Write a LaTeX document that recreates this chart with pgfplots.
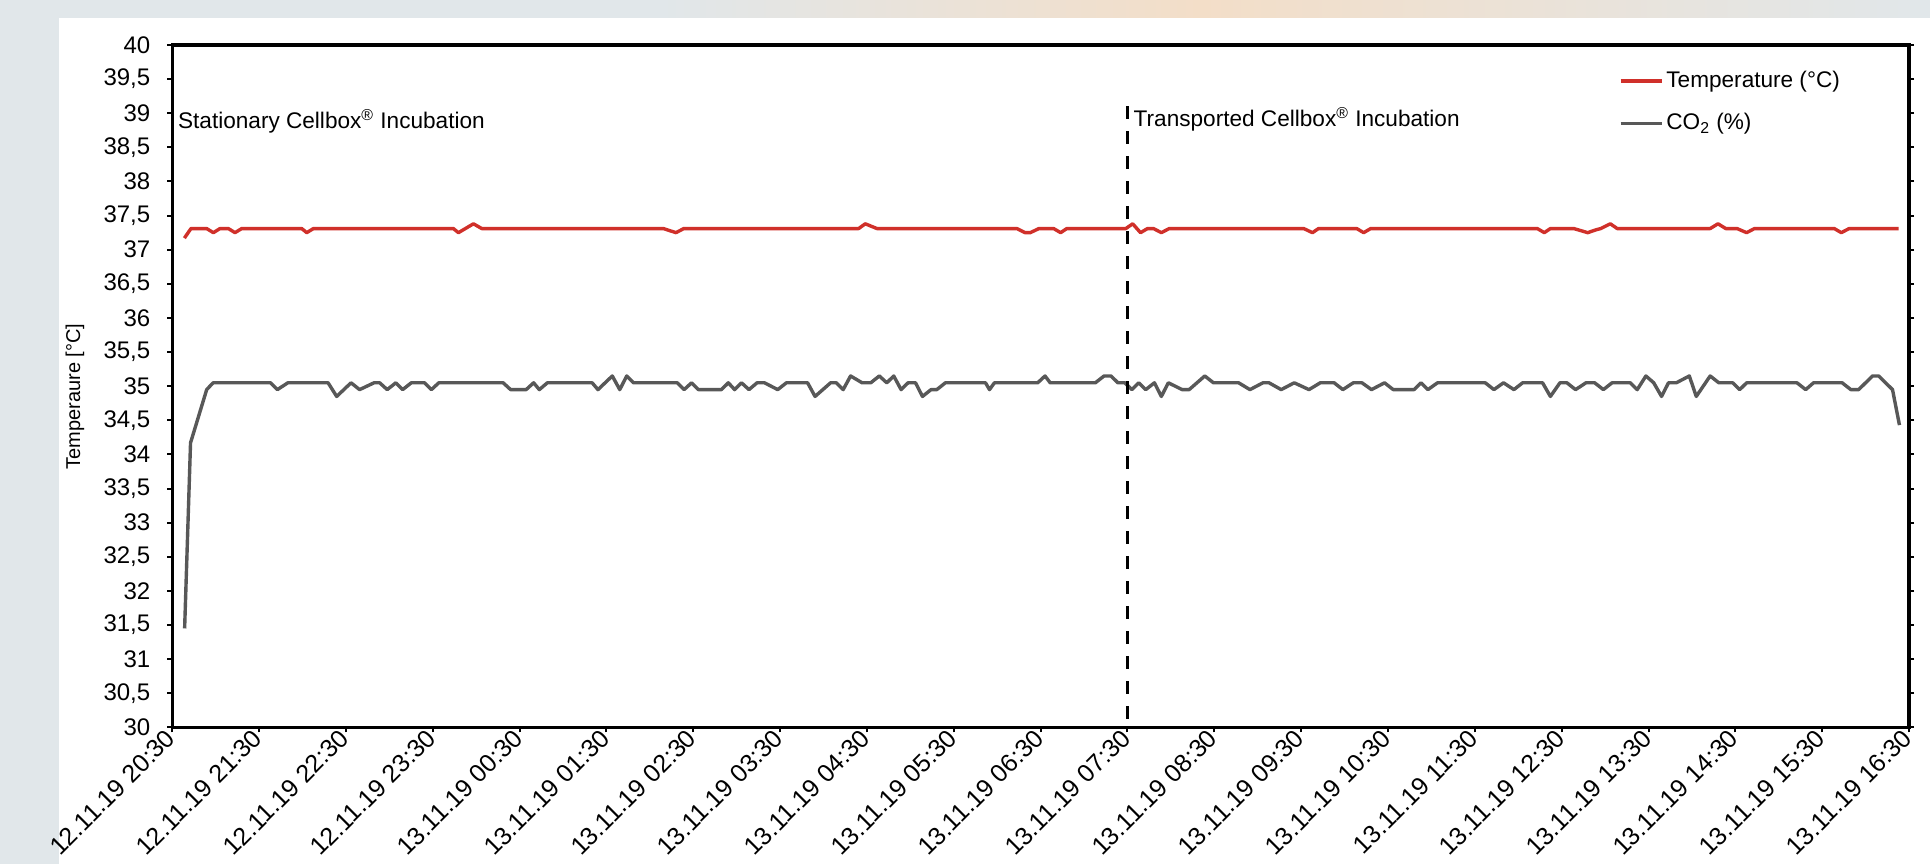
\documentclass[border=0pt]{standalone}
\usepackage{fontspec}
\setmainfont{Liberation Sans}
\usepackage{pgfplots}
\pgfplotsset{compat=1.18}
\definecolor{tempred}{RGB}{208,48,42}
\definecolor{co2grey}{RGB}{88,88,88}
\definecolor{bggrey}{RGB}{225,231,234}
\definecolor{peach}{RGB}{243,222,200}
\begin{document}
\begin{tikzpicture}
\path[use as bounding box] (0pt,0pt) rectangle (965pt,432pt);
\clip (0pt,0pt) rectangle (965pt,432pt);
\fill[bggrey] (0pt,0pt) rectangle (965pt,432pt);
\shade[left color=bggrey, right color=peach] (330pt,423pt) rectangle (600pt,432pt);
\shade[left color=peach, right color=bggrey] (600pt,423pt) rectangle (965pt,432pt);
\fill[white] (29.5pt,0pt) rectangle (965pt,423pt);
\begin{axis}[
  at={(86.15pt,68.3pt)}, anchor=south west,
  scale only axis, width=868.35pt, height=341.2pt,
  xmin=0, xmax=20, ymin=30, ymax=40,
  xtick={0,1,2,3,4,5,6,7,8,9,10,11,12,13,14,15,16,17,18,19,20},
  xticklabels={12.11.19 20:30,12.11.19 21:30,12.11.19 22:30,12.11.19 23:30,13.11.19 00:30,13.11.19 01:30,13.11.19 02:30,13.11.19 03:30,13.11.19 04:30,13.11.19 05:30,13.11.19 06:30,13.11.19 07:30,13.11.19 08:30,13.11.19 09:30,13.11.19 10:30,13.11.19 11:30,13.11.19 12:30,13.11.19 13:30,13.11.19 14:30,13.11.19 15:30,13.11.19 16:30},
  ytick={30,30.5,31,31.5,32,32.5,33,33.5,34,34.5,35,35.5,36,36.5,37,37.5,38,38.5,39,39.5,40},
  xtick pos=left, ytick pos=both,
  tick align=outside, major tick length=2.5pt,
  every tick/.style={black, line width=1pt},
  axis line style={line width=1.6pt, black},
  yticklabel style={font=\fontsize{12}{14}\selectfont, xshift=-5pt, /pgf/number format/.cd, use comma, fixed, precision=1, assume math mode=true},
  xticklabel style={font=\fontsize{12.5}{14}\selectfont, rotate=45, anchor=east, inner sep=1pt},
  every axis y label/.style={at={(axis description cs:-0.056,0.485)}, rotate=90, anchor=center, font=\fontsize{10}{12}\selectfont},
  ylabel={Temperaure [°C]},
  legend style={at={(rel axis cs:0.833,0.966)}, anchor=north west, draw=none, fill=none, inner sep=0pt, outer sep=0pt,
    font=\fontsize{11.3}{13}\selectfont, row sep=8.5pt, nodes={inner sep=1.5pt}},
  legend cell align=left,
  legend image code/.code={\draw[#1] (0pt,0pt) -- (20.5pt,0pt);},
]
\addplot[tempred, line width=1.7pt, line join=round] coordinates {
(0.139,37.17) (0.215,37.31) (0.396,37.31) (0.473,37.25) (0.549,37.31) (0.646,37.31) (0.722,37.25) (0.799,37.31)
(1.491,37.31) (1.548,37.25) (1.625,37.31) (3.237,37.31) (3.295,37.25) (3.468,37.38) (3.564,37.31)
(5.656,37.31) (5.80,37.25) (5.89,37.31) (7.904,37.31) (7.98,37.38) (8.115,37.31)
(9.727,37.31) (9.82,37.25) (9.88,37.25) (9.98,37.31) (10.15,37.31) (10.23,37.25) (10.30,37.31)
(10.98,37.31) (11.06,37.38) (11.15,37.25) (11.23,37.31) (11.30,37.31) (11.39,37.25) (11.48,37.31)
(13.03,37.31) (13.13,37.25) (13.20,37.31) (13.64,37.31) (13.72,37.25) (13.80,37.31)
(15.72,37.31) (15.80,37.25) (15.87,37.31) (16.14,37.31) (16.30,37.25) (16.39,37.29) (16.45,37.31)
(16.56,37.38) (16.64,37.31) (17.71,37.31) (17.80,37.38) (17.89,37.31) (18.02,37.31) (18.13,37.25)
(18.22,37.31) (19.14,37.31) (19.22,37.25) (19.31,37.31) (19.88,37.31)
};
\addlegendentry{Temperature (°C)}
\addplot[co2grey, line width=1.7pt, line join=round] coordinates {
(0.142,31.45) (0.21,34.17) (0.396,34.95) (0.470,35.05) (1.132,35.05) (1.211,34.95) (1.330,35.05)
(1.794,35.05) (1.893,34.85) (2.058,35.05) (2.157,34.95) (2.323,35.05) (2.388,35.05) (2.475,34.95)
(2.574,35.05) (2.653,34.95) (2.752,35.05) (2.905,35.05) (2.984,34.95) (3.069,35.05) (3.810,35.05)
(3.896,34.95) (4.075,34.95) (4.161,35.05) (4.227,34.95) (4.319,35.05) (4.835,35.05) (4.902,34.95)
(5.067,35.15) (5.153,34.95) (5.233,35.15) (5.312,35.05) (5.815,35.05) (5.894,34.95) (5.980,35.05)
(6.059,34.95) (6.324,34.95) (6.403,35.05) (6.476,34.95) (6.555,35.05) (6.641,34.95) (6.734,35.05)
(6.820,35.05) (6.972,34.95) (7.072,35.05) (7.316,35.05) (7.402,34.85) (7.581,35.05) (7.647,35.05)
(7.726,34.95) (7.811,35.15) (7.944,35.05) (8.043,35.05) (8.142,35.15) (8.228,35.05) (8.308,35.15)
(8.393,34.95) (8.473,35.05) (8.559,35.05) (8.639,34.85) (8.738,34.95) (8.804,34.95) (8.903,35.05)
(9.365,35.05) (9.411,34.95) (9.467,35.05) (9.966,35.05) (10.05,35.15) (10.11,35.05) (10.63,35.05)
(10.73,35.15) (10.81,35.15) (10.89,35.05) (10.97,35.05) (11.05,34.95) (11.13,35.05) (11.21,34.95)
(11.31,35.05) (11.39,34.85) (11.47,35.05) (11.63,34.95) (11.71,34.95) (11.89,35.15) (11.99,35.05)
(12.28,35.05) (12.41,34.95) (12.56,35.05) (12.63,35.05) (12.77,34.95) (12.92,35.05) (13.09,34.95)
(13.22,35.05) (13.38,35.05) (13.48,34.95) (13.60,35.05) (13.70,35.05) (13.81,34.95) (13.96,35.05)
(14.06,34.95) (14.30,34.95) (14.38,35.05) (14.46,34.95) (14.57,35.05) (15.12,35.05) (15.22,34.95)
(15.33,35.05) (15.45,34.95) (15.55,35.05) (15.78,35.05) (15.87,34.85) (15.98,35.05) (16.06,35.05)
(16.16,34.95) (16.28,35.05) (16.38,35.05) (16.48,34.95) (16.58,35.05) (16.79,35.05) (16.87,34.95)
(16.97,35.15) (17.06,35.05) (17.15,34.85) (17.23,35.05) (17.32,35.05) (17.47,35.15) (17.55,34.85)
(17.71,35.15) (17.81,35.05) (17.97,35.05) (18.05,34.95) (18.13,35.05) (18.71,35.05) (18.81,34.95)
(18.90,35.05) (19.23,35.05) (19.33,34.95) (19.42,34.95) (19.58,35.15) (19.65,35.15) (19.81,34.95)
(19.89,34.43)
};
\addlegendentry{CO\textsubscript{2} (\%)}
\addplot[black, line width=1.5pt, dash pattern=on 6.5pt off 6pt, forget plot] coordinates {(11,39.1) (11,30)};
\node[anchor=west, inner sep=0pt, font=\fontsize{11.3}{13}\selectfont] at (axis cs:0.062,38.88) {Stationary Cellbox\textsuperscript{®} Incubation};
\node[anchor=west, inner sep=0pt, font=\fontsize{11.3}{13}\selectfont] at (axis cs:11.067,38.91) {Transported Cellbox\textsuperscript{®} Incubation};
\end{axis}
\end{tikzpicture}
\end{document}
